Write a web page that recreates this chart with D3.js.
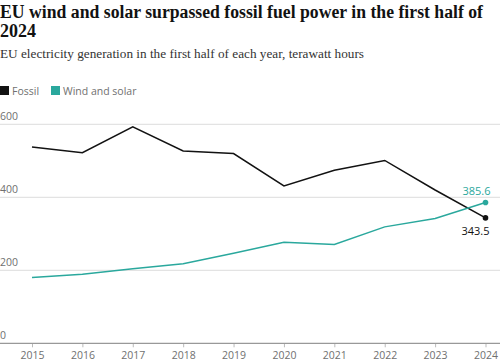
<!DOCTYPE html>
<meta charset="utf-8">
<style>
body { margin: 0; background: #fff; }
.title { font-family: 'Liberation Serif', serif; font-weight: bold; font-size: 18px; fill: #121212; }
.sub { font-family: 'Liberation Serif', serif; font-size: 13.5px; fill: #333; }
.legend text, .tick text, .ylab { font-family: 'Open Sans', sans-serif; font-size: 10.5px; fill: #707070; }
.grid line { stroke: #dcdcdc; }
</style>
<body>
<script src="https://d3js.org/d3.v7.min.js"></script>
<script>
var years = [2015, 2016, 2017, 2018, 2019, 2020, 2021, 2022, 2023, 2024];
var fossil = [538, 522, 593, 527, 520, 431, 474, 501, 420, 343.5];
var windSolar = [180, 189, 204, 218, 247, 277, 271, 319, 342, 385.6];
var yTicks = [0, 200, 400, 600];
var colors = { fossil: '#121212', wind: '#2aa89d' };

var width = 500, height = 364;
var svg = d3.select("body").append("svg")
    .attr("width", width)
    .attr("height", height);

svg.append("text").attr("class", "title").attr("x", 0).attr("y", 18)
  .attr("textLength", 483).attr("lengthAdjust", "spacingAndGlyphs")
  .text("EU wind and solar surpassed fossil fuel power in the first half of");
svg.append("text").attr("class", "title").attr("x", 0).attr("y", 37)
  .attr("textLength", 36).attr("lengthAdjust", "spacingAndGlyphs").text("2024");
svg.append("text").attr("class", "sub").attr("x", 0).attr("y", 58)
  .attr("textLength", 364).attr("lengthAdjust", "spacingAndGlyphs")
  .text("EU electricity generation in the first half of each year, terawatt hours");

// legend
var leg = svg.append("g").attr("class", "legend").attr("transform", "translate(0,86)");
[["Fossil", colors.fossil, 0], ["Wind and solar", colors.wind, 51]].forEach(function(l) {
  leg.append("rect").attr("x", l[2]).attr("y", 0).attr("width", 9).attr("height", 9).attr("fill", l[1]);
  leg.append("text").attr("x", l[2] + 12).attr("y", 8.5).text(l[0]);
});

var x = d3.scaleLinear().domain([2015, 2024]).range([32, 485.5]);
var y = d3.scaleLinear().domain([0, 600]).range([343.3, 124.3]);

// gridlines
var grid = svg.append("g").attr("class", "grid");
grid.selectAll("line").data(yTicks.filter(d => d > 0)).join("line")
  .attr("x1", 0).attr("x2", width)
  .attr("y1", d => y(d)).attr("y2", d => y(d));
svg.selectAll(".ylab").data(yTicks).join("text")
  .attr("class", "ylab")
  .attr("x", 0).attr("y", d => y(d) - 4)
  .text(d => d);

// x axis
var xAxis = svg.append("g")
  .attr("transform", "translate(0," + y(0) + ")")
  .call(d3.axisBottom(x).tickValues(years).tickFormat(d3.format("d")).tickSize(4).tickPadding(4));
xAxis.select(".domain").remove();
xAxis.selectAll(".tick line").attr("stroke", "#bbb");
svg.append("line").attr("x1", 0).attr("x2", width).attr("y1", y(0)).attr("y2", y(0))
  .attr("stroke", "#999").attr("stroke-width", 1.2);

var line = d3.line().x((d, i) => x(years[i])).y(d => y(d));
svg.append("path").datum(fossil).attr("d", line)
  .attr("fill", "none").attr("stroke", colors.fossil).attr("stroke-width", 1.5);
svg.append("path").datum(windSolar).attr("d", line)
  .attr("fill", "none").attr("stroke", colors.wind).attr("stroke-width", 1.5);

var last = years.length - 1;
svg.append("circle").attr("cx", x(years[last])).attr("cy", y(fossil[last])).attr("r", 2.8).attr("fill", colors.fossil);
svg.append("circle").attr("cx", x(years[last])).attr("cy", y(windSolar[last])).attr("r", 2.8).attr("fill", colors.wind);

svg.append("text").attr("x", x(years[last])).attr("y", y(windSolar[last]) - 8)
  .attr("text-anchor", "end").attr("dx", 5)
  .style("font-family", "'Open Sans', sans-serif").style("font-size", "11px").attr("fill", colors.wind)
  .text(windSolar[last]);
svg.append("text").attr("x", x(years[last])).attr("y", y(fossil[last]) + 17)
  .attr("text-anchor", "end").attr("dx", 4)
  .style("font-family", "'Open Sans', sans-serif").style("font-size", "11px").attr("fill", "#121212")
  .text(fossil[last]);
</script>
